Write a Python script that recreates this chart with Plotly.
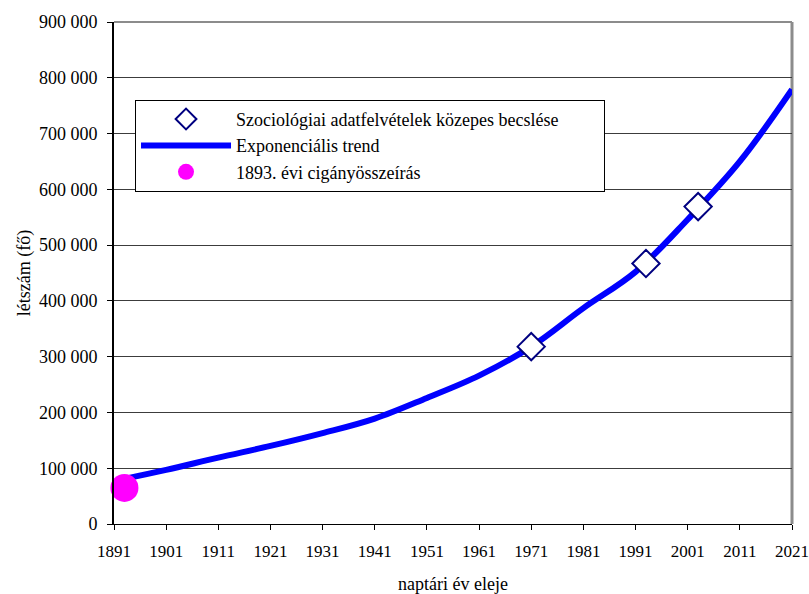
import plotly.graph_objects as go

# trend curve (year, headcount)
trend_years = [1893, 1901, 1911, 1921, 1931, 1941, 1951, 1961, 1971, 1981, 1991, 2001, 2011, 2021]
trend_values = [81000, 97000, 119000, 140000, 163000, 189000, 226000, 266000, 318000, 387000, 452000, 546000, 650000, 779000]

# sociological survey estimates
survey_years = [1971, 1993, 2003]
survey_values = [318000, 467000, 569000]

# 1893 census
census_years = [1893]
census_values = [64606]

x_ticks = list(range(1891, 2022, 10))
y_ticks = list(range(0, 900001, 100000))

SERIF = "Liberation Serif"

fig = go.Figure()
fig.add_trace(go.Scatter(
    x=trend_years, y=trend_values,
    mode="lines",
    line=dict(color="#0000ff", width=6, shape="spline", smoothing=1.0),
    name="Exponenciális trend",
    legendrank=2,
))
fig.add_trace(go.Scatter(
    x=survey_years, y=survey_values,
    mode="markers",
    marker=dict(symbol="diamond", size=21, color="white", line=dict(color="#000080", width=2)),
    # trailing no-break spaces only widen the legend box like the original
    name="Szociológiai adatfelvételek közepes becslése" + "\u00a0" * 9,
    legendrank=1,
))
fig.add_trace(go.Scatter(
    x=census_years, y=census_values,
    mode="markers",
    marker=dict(symbol="circle", size=28, color="#ff00ff"),
    name="1893. évi cigányösszeírás",
    legendrank=3,
    cliponaxis=False,
))

fig.update_xaxes(
    range=[1891, 2021],
    tickvals=x_ticks,
    ticks="outside", ticklen=5, tickcolor="black",
    showline=True, linecolor="black", linewidth=1,
    showgrid=False, zeroline=False,
    automargin=False,
    ticklabeloverflow="allow",
    tickfont=dict(family=SERIF, size=17, color="black"),
    ticklabelstandoff=7,
    title=dict(text="naptári év eleje", font=dict(family=SERIF, size=18, color="black"), standoff=16),
)
fig.update_yaxes(
    range=[0, 900000],
    tickvals=y_ticks,
    tickformat=",d",
    ticks="outside", ticklen=5, tickcolor="black",
    showline=True, linecolor="black", linewidth=2,
    showgrid=True, gridcolor="#3c3c3c", gridwidth=1,
    zeroline=False,
    automargin=False,
    ticklabeloverflow="allow",
    tickfont=dict(family=SERIF, size=18, color="black"),
    ticklabelstandoff=6,
    title=dict(text="létszám (fő)", font=dict(family=SERIF, size=18, color="black"), standoff=4),
)

# grey frame on top and right like the original
fig.add_shape(type="line", xref="paper", yref="paper", x0=0, x1=1, y0=1, y1=1,
              line=dict(color="#8c8c8c", width=2), layer="below")
fig.add_shape(type="line", xref="paper", yref="paper", x0=1, x1=1, y0=0, y1=1,
              line=dict(color="#8c8c8c", width=3), layer="below")

fig.update_layout(
    width=809, height=594,
    margin=dict(l=114, r=17, t=22, b=70),
    separators=". ",
    plot_bgcolor="white", paper_bgcolor="white",
    font=dict(family=SERIF, color="black"),
    showlegend=True,
    legend=dict(
        x=0.031, y=0.845, xanchor="left", yanchor="top",
        bgcolor="white", bordercolor="black", borderwidth=1,
        font=dict(family=SERIF, size=18, color="black"),
        itemwidth=90,
    ),
)

# drop the default 8 px page margin so the figure fills the window exactly
fig.write_html(
    "out.html",
    config={"displayModeBar": False},
    post_script="document.body.style.margin='0';document.body.style.overflow='hidden';",
)
